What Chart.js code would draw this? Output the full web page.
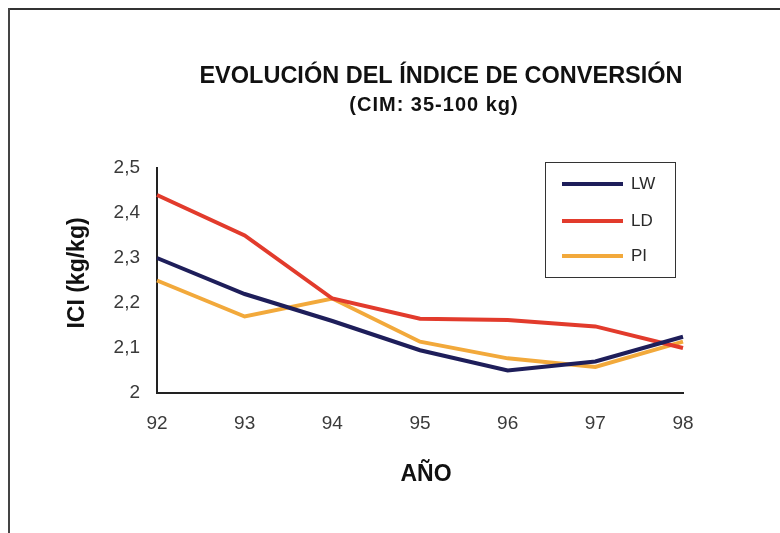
<!DOCTYPE html>
<html>
<head>
<meta charset="utf-8">
<script src="https://cdn.jsdelivr.net/npm/chart.js@4/dist/chart.umd.min.js"></script>
<style>
  html, body { margin: 0; padding: 0; background: #fff; }
  #wrap { position: relative; width: 780px; height: 533px; }
  #frameTop { position: absolute; left: 9px; top: 8px; width: 771px; height: 2px; background: #333; }
  #frameLeft { position: absolute; left: 8px; top: 8px; width: 2px; height: 525px; background: #444; }
</style>
</head>
<body>
<div id="wrap">
  <canvas id="myChart" width="780" height="533"></canvas>
  <div id="frameTop"></div>
  <div id="frameLeft"></div>
</div>
<script>
const years = ['92', '93', '94', '95', '96', '97', '98'];
const lw = [2.30, 2.22, 2.16, 2.095, 2.05, 2.07, 2.125];
const ld = [2.44, 2.35, 2.21, 2.165, 2.162, 2.148, 2.10];
const pi = [2.25, 2.17, 2.21, 2.114, 2.077, 2.058, 2.114];
const seriesNames = ['LW', 'LD', 'PI'];
const seriesColors = ['#1e1e5a', '#e23b2c', '#f2a93b'];

const FONT = '"Liberation Sans", Arial, sans-serif';

const textPlugin = {
  id: 'textPlugin',
  afterDraw(chart) {
    const ctx = chart.ctx;
    ctx.save();
    ctx.fillStyle = '#111';
    ctx.textAlign = 'center';
    ctx.textBaseline = 'middle';
    ctx.font = 'bold 23.5px ' + FONT;
    ctx.fillText('EVOLUCIÓN DEL ÍNDICE DE CONVERSIÓN', 441, 77);
    ctx.font = 'bold 20px ' + FONT;
    ctx.letterSpacing = '1px';
    ctx.fillText('(CIM: 35-100 kg)', 434, 105);
    ctx.letterSpacing = '0px';
    ctx.font = 'bold 23px ' + FONT;
    ctx.fillText('AÑO', 426, 475);
    ctx.translate(78, 273);
    ctx.rotate(-Math.PI / 2);
    ctx.fillText('ICI (kg/kg)', 0, 0);
    ctx.restore();

    // legend box
    ctx.save();
    ctx.strokeStyle = '#333';
    ctx.lineWidth = 1;
    ctx.strokeRect(545.5, 162.5, 130, 115);
    ctx.font = '17px ' + FONT;
    ctx.textAlign = 'left';
    ctx.textBaseline = 'middle';
    const rows = [184, 221, 256];
    seriesNames.forEach((name, i) => {
      ctx.strokeStyle = seriesColors[i];
      ctx.lineWidth = 4;
      ctx.beginPath();
      ctx.moveTo(562, rows[i]);
      ctx.lineTo(623, rows[i]);
      ctx.stroke();
      ctx.fillStyle = '#2a2a2a';
      ctx.fillText(name, 631, rows[i]);
    });
    ctx.restore();
  }
};

var chartArea = document.getElementById('myChart').getContext('2d');
var myChart = new Chart(chartArea, {
  type: 'line',
  data: {
    labels: years,
    datasets: [
      { label: seriesNames[0], data: lw, borderColor: seriesColors[0] },
      { label: seriesNames[1], data: ld, borderColor: seriesColors[1] },
      { label: seriesNames[2], data: pi, borderColor: seriesColors[2] }
    ]
  },
  options: {
    responsive: false,
    animation: false,
    elements: {
      line: { borderWidth: 4, tension: 0 },
      point: { radius: 0 }
    },
    layout: { padding: { left: 20, right: 97, top: 168, bottom: 20 } },
    plugins: {
      legend: { display: false },
      tooltip: { enabled: false }
    },
    scales: {
      x: {
        offset: false,
        grid: { display: false },
        border: { display: true, color: '#222', width: 2 },
        ticks: { color: '#3a3a3a', font: { size: 19, family: FONT }, padding: 11 },
        afterFit: (scale) => { scale.height = 533 - 393 - 20; }
      },
      y: {
        min: 2,
        max: 2.5,
        grid: { display: false },
        border: { display: true, color: '#222', width: 2 },
        ticks: {
          stepSize: 0.1,
          color: '#3a3a3a',
          padding: 9,
          font: { size: 19, family: FONT },
          callback: (v) => String(Number(v.toFixed(1))).replace('.', ',')
        },
        afterFit: (scale) => { scale.width = 157 - 20; }
      }
    }
  },
  plugins: [textPlugin]
});
</script>
</body>
</html>
